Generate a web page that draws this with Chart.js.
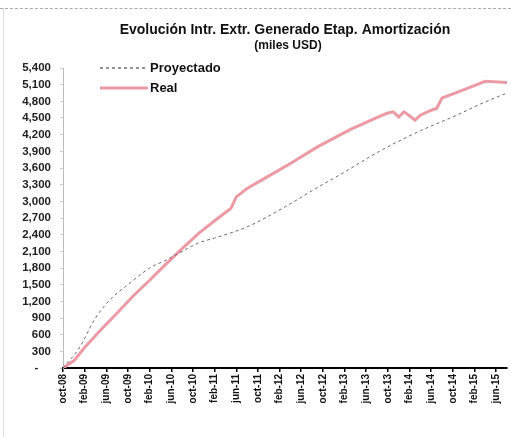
<!DOCTYPE html>
<html>
<head>
<meta charset="utf-8">
<script src="https://cdn.jsdelivr.net/npm/chart.js@4.4.0/dist/chart.umd.min.js"></script>
<style>
  html, body { margin: 0; padding: 0; background: #fff; }
  #wrap { position: relative; width: 511px; height: 437px; }
  #wrap:before { content: ""; position: absolute; left: 0; right: 0; top: 8px; border-top: 1px dashed #aaa; }
  #wrap:after { content: ""; position: absolute; left: 3px; top: 8px; bottom: 0; border-left: 1px solid #ddd; }
</style>
</head>
<body>
<div id="wrap"><canvas id="chart" width="511" height="437"></canvas></div>
<script>
const titleLines = ["Evolución Intr. Extr. Generado Etap. Amortización", "(miles USD)"];
const seriesNames = ["Proyectado", "Real"];

// x axis: months counted from oct-08, one label every 4 months
const tickLabels = ["oct-08","feb-09","jun-09","oct-09","feb-10","jun-10","oct-10","feb-11","jun-11","oct-11",
  "feb-12","jun-12","oct-12","feb-13","jun-13","oct-13","feb-14","jun-14","oct-14","feb-15","jun-15"];
const lastMonth = 82;

// Proyectado
const projMonths = [0, 3, 6, 9, 12, 16, 19, 22, 25, 28, 34, 41, 47, 51, 59, 66, 72, 78, 82];
const projValues = [0, 360, 900, 1260, 1500, 1800, 1940, 2100, 2250, 2340, 2540, 2900, 3250, 3470, 3930, 4270, 4520, 4790, 4950];

// Real
const realMonths = [0, 2, 4, 7, 10, 13, 16, 19, 22, 25, 28, 30, 31, 32, 34, 37, 42, 47, 53, 59, 60, 61, 62, 63, 64, 65, 66, 68, 69, 70, 73, 78, 82];
const realValues = [0, 130, 370, 690, 990, 1300, 1580, 1870, 2150, 2420, 2650, 2800, 2870, 3080, 3230, 3400, 3680, 3980, 4290, 4550, 4590, 4610, 4520, 4610, 4540, 4460, 4550, 4640, 4670, 4860, 4970, 5160, 5140];

const yMax = 5400, yStep = 300;

const pts = (xs, ys) => xs.map((x, i) => ({ x: x, y: ys[i] }));
const FONT = "'Liberation Sans', Arial, sans-serif";

// title + vertical legend drawn over the chart area
const decor = {
  id: 'decor',
  afterDraw(chart) {
    const ctx = chart.ctx, area = chart.chartArea;
    const cx = (area.left + area.right) / 2;
    ctx.save();
    ctx.fillStyle = '#111';
    ctx.textAlign = 'center';
    ctx.textBaseline = 'middle';
    ctx.font = 'bold 14px ' + FONT;
    ctx.fillText(titleLines[0], cx, 30);
    ctx.font = 'bold 12px ' + FONT;
    ctx.fillText(titleLines[1], cx + 3, 46);

    ctx.textAlign = 'left';
    ctx.font = 'bold 13px ' + FONT;
    chart.data.datasets.forEach((ds, i) => {
      const y = 68 + i * 20;
      ctx.beginPath();
      ctx.strokeStyle = i === 0 ? '#222' : ds.borderColor;
      ctx.lineWidth = i === 0 ? 1 : ds.borderWidth;
      ctx.setLineDash(ds.borderDash || []);
      ctx.moveTo(100, y); ctx.lineTo(148, y);
      ctx.stroke();
      ctx.setLineDash([]);
      ctx.fillText(ds.label, 150, y);
    });
    ctx.restore();
  }
};

new Chart(document.getElementById('chart'), {
  type: 'line',
  data: {
    datasets: [
      { label: seriesNames[0], data: pts(projMonths, projValues), borderColor: '#6a6a6a', borderWidth: 1,
        borderDash: [3, 3], pointRadius: 0, cubicInterpolationMode: 'monotone' },
      { label: seriesNames[1], data: pts(realMonths, realValues), borderColor: '#ec9aa4', borderWidth: 3,
        pointRadius: 0, tension: 0 }
    ]
  },
  options: {
    responsive: false,
    animation: false,
    layout: { padding: { top: 68, right: 4, left: 0, bottom: 0 } },
    plugins: { legend: { display: false }, title: { display: false }, tooltip: { enabled: false } },
    scales: {
      x: {
        type: 'linear', min: 0, max: lastMonth,
        afterBuildTicks: s => { s.ticks = tickLabels.map((_, i) => ({ value: i * 4 })); },
        afterFit: s => { s.height = 69; },
        border: { color: '#000', width: 2 },
        grid: { drawOnChartArea: false, tickLength: 4, color: '#000', lineWidth: 1.5 },
        ticks: {
          autoSkip: false, maxRotation: 90, minRotation: 90, padding: 2,
          color: '#111', font: { family: FONT, size: 10, weight: 'bold' },
          callback: v => tickLabels[v / 4]
        }
      },
      y: {
        min: 0, max: yMax,
        afterFit: s => { s.width = 63; },
        border: { color: '#bbb', width: 1 },
        grid: { drawOnChartArea: false, tickLength: 3, color: '#ccc' },
        ticks: {
          stepSize: yStep, autoSkip: false, padding: 9, color: '#222',
          font: { family: FONT, size: 11.5, weight: 'bold' },
          callback: v => v === 0 ? '-    ' : v.toLocaleString('en-US')
        }
      }
    }
  },
  plugins: [decor]
});
</script>
</body>
</html>
